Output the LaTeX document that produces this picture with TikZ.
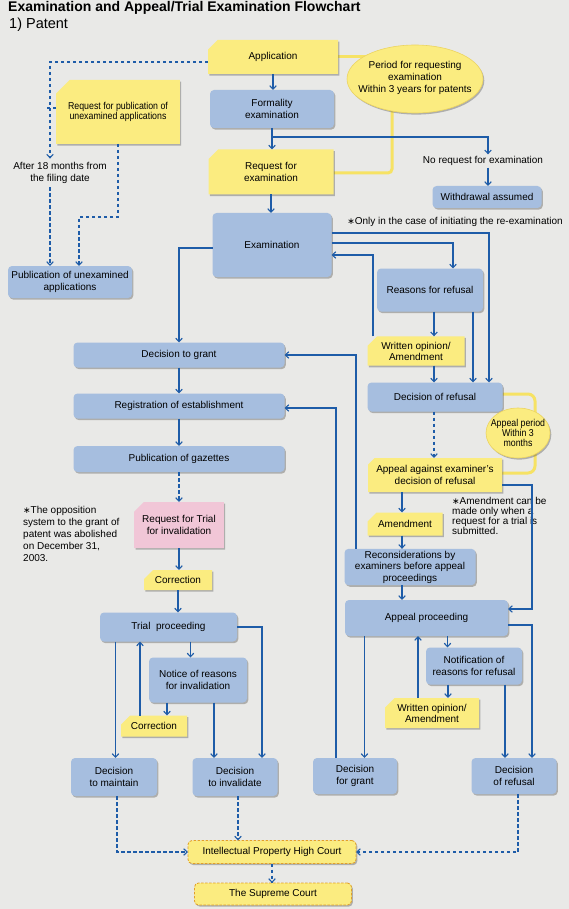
\documentclass[tikz,border=0pt]{standalone}
\usepackage{fontspec}
\setmainfont{Liberation Sans}
\newfontfamily\condfont[FakeStretch=0.88]{Liberation Sans}
\newfontfamily\djv{DejaVu Sans}
\newcommand{\astk}{{\djv\fontsize{9}{9}\selectfont ∗}}
\usetikzlibrary{shapes.geometric,shapes.misc,arrows.meta,shadows,calc}
\pgfdeclarelayer{background}
\pgfdeclarelayer{bottom}
\pgfsetlayers{bottom,background,main}
\definecolor{bgc}{RGB}{233,233,231}
\definecolor{bblue}{RGB}{166,190,223}
\definecolor{byel}{RGB}{251,236,128}
\definecolor{bpink}{RGB}{241,198,215}
\definecolor{lblue}{RGB}{30,92,168}
\definecolor{lyel}{RGB}{246,226,100}
\definecolor{ora}{RGB}{226,160,40}
\definecolor{eborder}{RGB}{236,212,96}
\begin{document}
\begin{tikzpicture}[x=1pt,y=-1pt,
  font=\fontsize{10}{11.5}\selectfont,
  shad/.style={drop shadow={shadow xshift=1.3pt,shadow yshift=-1.6pt,opacity=0.35,fill=black!75}},
  bbox/.style={rounded corners=4pt,fill=bblue,align=center,inner sep=2pt,outer sep=0pt,shad},
  ybox/.style={chamfered rectangle,chamfered rectangle corners=north west,chamfered rectangle xsep=6pt,
     fill=byel,align=center,inner sep=2pt,outer sep=0pt,shad},
  pbox/.style={ybox,fill=bpink},
  cbox/.style={rounded corners=4pt,fill=byel,draw=ora,dash pattern=on 2.5pt off 1.5pt,line width=0.8pt,
     align=center,inner sep=2pt,outer sep=0pt,shad},
  txt/.style={align=center,inner sep=2pt,outer sep=0pt},
  arr/.style={draw=lblue,line width=1.1pt,-{Straight Barb[length=3.5pt,width=6.5pt]}},
  darr/.style={arr,dash pattern=on 3.5pt off 2.5pt},
  dl/.style={draw=lblue,line width=1.1pt,dash pattern=on 3.5pt off 2.5pt},
  yl/.style={draw=lyel,line width=3pt}]
\useasboundingbox (0,0) rectangle (569,909);
\begin{pgfonlayer}{bottom}
\fill[bgc] (0,0) rectangle (569,909);
\end{pgfonlayer}

% titles
\node[anchor=west,inner sep=0pt,font=\fontsize{14}{16}\selectfont\bfseries] (title) at (8,8)
  {Examination and Appeal/Trial Examination Flowchart};
\node[anchor=west,inner sep=0pt,font=\fontsize{14.5}{16}\selectfont] (sub) at (9,25) {1) Patent};

% top
\node[ybox,minimum width=130,minimum height=34] (app) at (273,57) {Application};
\node[ellipse,fill=byel,draw=eborder,line width=0.6pt,minimum width=136,minimum height=68,inner sep=0pt,shad] (ell1) at (415,79) {};
\node[txt,font=\fontsize{10}{12}\selectfont] (ell1t) at (415,78) {Period for requesting\\examination\\Within 3 years for patents};
\node[bbox,minimum width=124,minimum height=38] (formal) at (272,109) {Formality\\examination};
\node[txt] (nore) at (483,161) {No request for examination};
\node[bbox,minimum width=109,minimum height=22] (withdraw) at (487,197) {Withdrawal assumed};
\node[ybox,minimum width=125,minimum height=45] (reqex) at (271,172) {Request for\\examination};
\node[bbox,minimum width=119,minimum height=64] (exam) at (272,245) {Examination};
\node[txt] (note1) at (455,222) {\astk Only in the case of initiating the re-examination};
\node[bbox,minimum width=106,minimum height=43] (reasons) at (430,290) {Reasons for refusal};
\node[ybox,minimum width=97,minimum height=29,font=\fontsize{10}{11}\selectfont] (wo1) at (416,351) {Written opinion/\\Amendment};

% left top
\node[ybox,minimum width=112,minimum height=64,chamfered rectangle xsep=10pt,font=\condfont\fontsize{10}{9.5}\selectfont] (reqpub) at (118,112)
  {Request for publication of\\unexamined applications};
\node[txt,inner sep=4pt] (after18) at (60,173) {After 18 months from\\the filing date};
\node[bbox,minimum width=124,minimum height=32] (pubunex) at (70,282) {Publication of unexamined\\applications};

% left column
\node[bbox,minimum width=211,minimum height=25] (grant) at (179,355) {Decision to grant};
\node[bbox,minimum width=211,minimum height=25] (reg) at (179,406) {Registration of establishment};
\node[bbox,minimum width=211,minimum height=26] (pubgaz) at (179,459) {Publication of gazettes};
\node[pbox,minimum width=86,minimum height=46] (reqtrial) at (179,525) {Request for Trial\\for invalidation};
\node[anchor=north west,align=left,inner sep=0pt,font=\fontsize{10}{12}\selectfont] (note3) at (23,506)
  {\astk The opposition\\system to the grant of\\patent was abolished\\on December 31,\\2003.};
\node[ybox,minimum width=68,minimum height=20] (corr1) at (178,580) {Correction};
\node[bbox,minimum width=137,minimum height=29] (trial) at (168.5,627) {Trial\ \ proceeding};
\node[bbox,minimum width=98,minimum height=45] (notice) at (198,680) {Notice of reasons\\for invalidation};
\node[ybox,minimum width=66,minimum height=21] (corr2) at (154,726) {Correction};
\node[bbox,minimum width=86,minimum height=38] (dmaintain) at (114,777) {Decision\\to maintain};
\node[bbox,minimum width=85,minimum height=38] (dinval) at (235,777) {Decision\\to invalidate};

% right column
\node[bbox,minimum width=135,minimum height=29] (refusal) at (435,397) {Decision of refusal};
\node[ellipse,fill=byel,draw=eborder,line width=0.6pt,minimum width=64,minimum height=50,inner sep=0pt,shad] (ell2) at (518,433) {};
\node[txt,font=\condfont\fontsize{10}{10}\selectfont] (ell2t) at (518,433) {Appeal period\\Within 3\\months};
\node[ybox,chamfered rectangle xsep=3pt,minimum width=134,minimum height=34] (appeal) at (435,475) {Appeal against examiner's\\decision of refusal};
\node[ybox,minimum width=75,minimum height=23] (amend) at (405,524) {Amendment};
\node[anchor=north west,align=left,inner sep=0pt,font=\fontsize{10}{10}\selectfont] (note2) at (452,497)
  {\astk Amendment can be\\made only when a\\request for a trial is\\submitted.};
\node[bbox,minimum width=131,minimum height=36] (recon) at (410,567) {Reconsiderations by\\examiners before appeal\\proceedings};
\node[bbox,minimum width=163,minimum height=36] (appealproc) at (426.5,618) {Appeal proceeding};
\node[bbox,minimum width=96,minimum height=37] (notif) at (474,666) {Notification of\\reasons for refusal};
\node[ybox,minimum width=94,minimum height=30,font=\fontsize{10}{11}\selectfont] (wo2) at (432,713) {Written opinion/\\Amendment};
\node[bbox,minimum width=84,minimum height=36] (dgrant) at (355,776) {Decision\\for grant};
\node[bbox,minimum width=85,minimum height=36] (drefusal) at (514,776) {Decision\\of refusal};

% courts
\node[cbox,minimum width=168,minimum height=23] (ipcourt) at (272,852) {Intellectual Property High Court};
\node[cbox,minimum width=157,minimum height=22] (supreme) at (273,894) {The Supreme Court};

% yellow links
\begin{pgfonlayer}{background}
\draw[yl] (app.east) -- (380,57);
\draw[yl,rounded corners=4pt] (392,100) -- (392,173) -- (reqex.east |- 0,173);
\draw[yl,rounded corners=7pt] (refusal.east |- 0,394) -- (535,394) -- (535,473) -- (appeal.east |- 0,473);
\end{pgfonlayer}

% connectors top
\coordinate (br1) at (272,137);
\draw[arr] (app.south) -- (app.south |- formal.north);
\draw[arr] (formal.south) -- (formal.south |- reqex.north);
\draw[arr] (formal.south |- br1) -| ([xshift=5pt]nore.north);
\draw[arr] ([xshift=5pt]nore.south) -- ([xshift=5pt]nore.south |- withdraw.north);
\draw[arr] (reqex.south) -- (reqex.south |- exam.north);
\draw[arr] ([yshift=-3pt]exam.west) -| (grant.north);
\draw[arr] ([yshift=12pt]exam.east) -| ([xshift=54pt]refusal.north);
\draw[arr] ([yshift=2pt]exam.east) -| ([xshift=23pt]reasons.north);
\draw[arr] ([xshift=-43pt]wo1.north) |- ([yshift=-10pt]exam.east);
\draw[arr] ([xshift=4pt]reasons.south) -- ([xshift=4pt]reasons.south |- wo1.north);
\draw[arr] ([xshift=43pt]reasons.south) -- ([xshift=43pt]reasons.south |- refusal.north);
\draw[arr] ([xshift=18pt]wo1.south) -- ([xshift=18pt]wo1.south |- refusal.north);
\draw[arr] ([xshift=-54pt]recon.north) |- (grant.east);
\draw[arr] ([xshift=-19pt]dgrant.north) |- ([yshift=-2pt]reg.east);

% left dashed
\draw[darr] ([yshift=-5pt]app.west) -| ([xshift=-10pt]after18.north);
\draw[dl] ([yshift=4pt]reqpub.west) -- ++(-12pt,0);
\draw[darr] ([xshift=-10pt]after18.south) -- ([xshift=-10pt]after18.south |- pubunex.north);
\draw[darr] (reqpub.south) -- (reqpub.south |- 0,217) -| ([xshift=9pt]pubunex.north);

% left column
\draw[arr] (grant.south) -- (grant.south |- reg.north);
\draw[arr] (reg.south) -- (reg.south |- pubgaz.north);
\draw[darr] (pubgaz.south) -- (pubgaz.south |- reqtrial.north);
\draw[arr] (reqtrial.south) -- (reqtrial.south |- corr1.north);
\draw[arr] (corr1.south) -- (corr1.south |- trial.north);
\draw[arr] (trial.east) -| ([xshift=27pt]dinval.north);
\draw[arr] ([xshift=-53pt]trial.south) -- ([xshift=-53pt]trial.south |- dmaintain.north);
\draw[arr] ([xshift=-14pt]corr2.north) -- ([xshift=-14pt]corr2.north |- trial.south);
\draw[arr] ([xshift=22pt]trial.south) -- ([xshift=22pt]trial.south |- notice.north);
\draw[arr] ([xshift=-31pt]notice.south) -- ([xshift=-31pt]notice.south |- corr2.north);
\draw[arr] ([xshift=16pt]notice.south) -- ([xshift=16pt]notice.south |- dinval.north);

% right column
\draw[darr] ([xshift=-1pt]refusal.south) -- ([xshift=-1pt]refusal.south |- appeal.north);
\coordinate (c1) at (532,609);
\draw[arr] ([yshift=-10pt]appeal.east) -| (c1) -- (c1 -| appealproc.east);
\draw[arr] ([xshift=-33pt]appeal.south) -- ([xshift=-33pt]appeal.south |- amend.north);
\draw[arr] ([xshift=-3pt]amend.south) -- ([xshift=-3pt]amend.south |- recon.north);
\draw[arr] ([xshift=-8pt]recon.south) -- ([xshift=-8pt]recon.south |- appealproc.north);
\draw[arr] ([yshift=-7pt]appealproc.east) -| ([xshift=18pt]drefusal.north);
\draw[arr] ([xshift=21pt]appealproc.south) -- ([xshift=21pt]appealproc.south |- notif.north);
\draw[arr] ([xshift=-14pt]wo2.north) -- ([xshift=-14pt]wo2.north |- appealproc.south);
\draw[arr] ([xshift=-62pt]appealproc.south) -- ([xshift=-62pt]appealproc.south |- dgrant.north);
\draw[arr] ([xshift=-26pt]notif.south) -- ([xshift=-26pt]notif.south |- wo2.north);
\draw[arr] ([xshift=31pt]notif.south) -- ([xshift=31pt]notif.south |- drefusal.north);

% courts
\draw[darr] ([xshift=3pt]dmaintain.south) |- (ipcourt.west);
\draw[darr] ([xshift=3pt]dinval.south) -- ([xshift=3pt]dinval.south |- ipcourt.north);
\draw[darr] ([xshift=4pt]drefusal.south) |- (ipcourt.east);
\draw[darr] (ipcourt.south) -- (ipcourt.south |- supreme.north);
\end{tikzpicture}
\end{document}
